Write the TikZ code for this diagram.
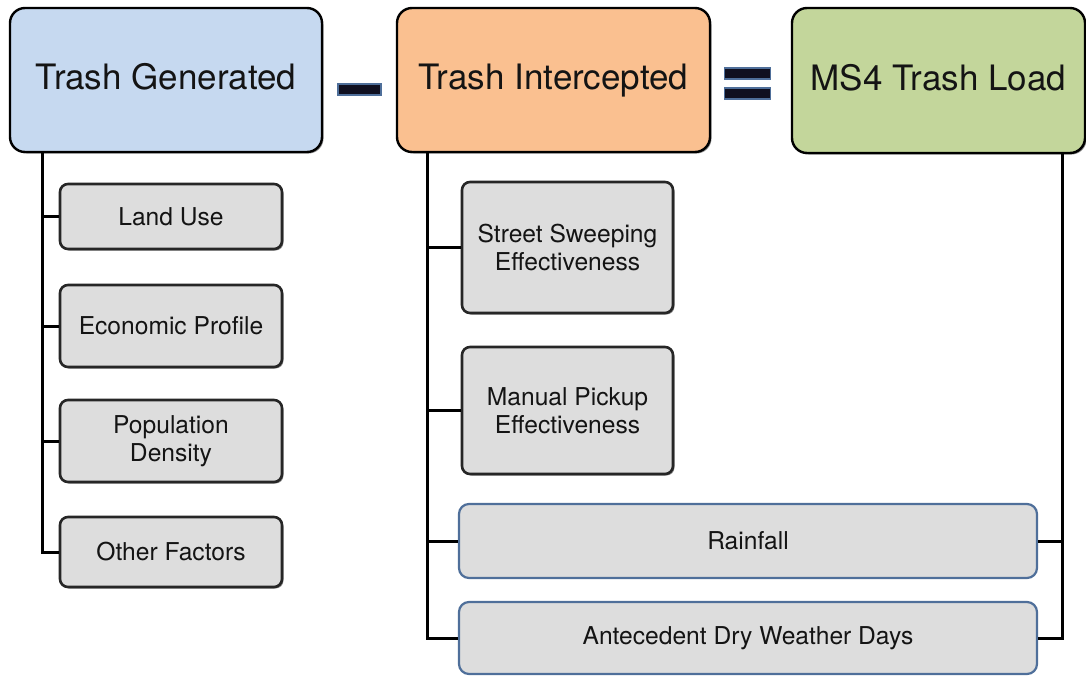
\documentclass[tikz,border=0pt]{standalone}
\usepackage{fontspec}
\setmainfont{TeX Gyre Heros}
\usetikzlibrary{shadows}
\definecolor{tgblue}{HTML}{C6D9F0}
\definecolor{tiorange}{HTML}{FAC090}
\definecolor{msgreen}{HTML}{C3D69B}
\definecolor{boxgray}{HTML}{DDDDDD}
\definecolor{edgeblue}{HTML}{4F6F9A}
\definecolor{opdark}{HTML}{101020}
\definecolor{txt}{HTML}{141414}
\tikzset{
  topbox/.style={draw=black, line width=2.4pt, rounded corners=15pt, text=txt,
    font=\fontsize{35}{39}\selectfont, inner sep=0pt, text height=25pt, text depth=6pt,
    drop shadow={shadow xshift=1.5pt, shadow yshift=-1.5pt, opacity=0.45, fill=black}},
  subbox/.style={draw=black!85, line width=2.6pt, rounded corners=8pt, fill=boxgray, text=txt,
    font=\fontsize{24.6}{27.5}\selectfont, align=center, inner sep=0pt,
    drop shadow={shadow xshift=1.5pt, shadow yshift=-1.5pt, opacity=0.45, fill=black}},
  widebox/.style={draw=edgeblue, line width=2.2pt, rounded corners=10pt, fill=boxgray, text=txt,
    font=\fontsize{24.6}{27.5}\selectfont, align=center, inner sep=0pt},
  conn/.style={draw=black, line width=3pt},
  opbar/.style={draw=edgeblue, fill=opdark, line width=1.5pt, inner sep=0pt}
}
\begin{document}
\begin{tikzpicture}[x=1pt,y=-1pt]
\useasboundingbox (0,0) rectangle (1086,675);
% top boxes
\node[topbox, fill=tgblue, minimum width=312pt, minimum height=144pt] (tg) at (166,80) {Trash Generated};
\node[topbox, fill=tiorange, minimum width=313pt, minimum height=144pt] (ti) at (553.5,80) {Trash Intercepted};
\node[topbox, fill=msgreen, minimum width=293pt, minimum height=145pt] (ms) at (938.5,80.5) {MS4 Trash Load};
% operators
\node[opbar, minimum width=43pt, minimum height=11pt] (minus) at (359.5,89.5) {};
\node[opbar, minimum width=46pt, minimum height=11pt] (eqa) at (747.5,73.5) {};
\node[opbar, minimum width=46pt, minimum height=11pt] (eqb) at (747.5,93.5) {};
% left column
\node[subbox, minimum width=222pt, minimum height=65pt] (lu) at (171,216.5) {Land Use};
\node[subbox, minimum width=222pt, minimum height=82pt] (ep) at (171,326) {Economic Profile};
\node[subbox, minimum width=222pt, minimum height=82pt] (pd) at (171,441) {Population\\Density};
\node[subbox, minimum width=222pt, minimum height=70pt] (of) at (171,552) {Other Factors};
% middle column
\node[subbox, minimum width=211pt, minimum height=131pt] (ss) at (567.5,247.5) {Street Sweeping\\Effectiveness};
\node[subbox, minimum width=211pt, minimum height=127pt] (mp) at (567.5,410.5) {Manual Pickup\\Effectiveness};
% wide boxes
\node[widebox, minimum width=578pt, minimum height=74pt] (rf) at (748,541) {Rainfall};
\node[widebox, minimum width=578pt, minimum height=72pt] (ad) at (748,638) {Antecedent Dry Weather Days};
% trunk coordinates
\coordinate (ltop) at (42,152);
\coordinate (mtop) at (427,152);
\coordinate (rtop) at (1062,153);
% left connectors
\draw[conn] (ltop) |- (of.west);
\draw[conn] (lu.west) -- (lu.west -| ltop);
\draw[conn] (ep.west) -- (ep.west -| ltop);
\draw[conn] (pd.west) -- (pd.west -| ltop);
% middle connectors
\draw[conn] (mtop) |- (ad.west);
\draw[conn] (ss.west) -- (ss.west -| mtop);
\draw[conn] (mp.west) -- (mp.west -| mtop);
\draw[conn] (rf.west) -- (rf.west -| mtop);
% right connectors
\draw[conn] (rtop) |- (ad.east);
\draw[conn] (rf.east) -- (rf.east -| rtop);
\end{tikzpicture}
\end{document}
